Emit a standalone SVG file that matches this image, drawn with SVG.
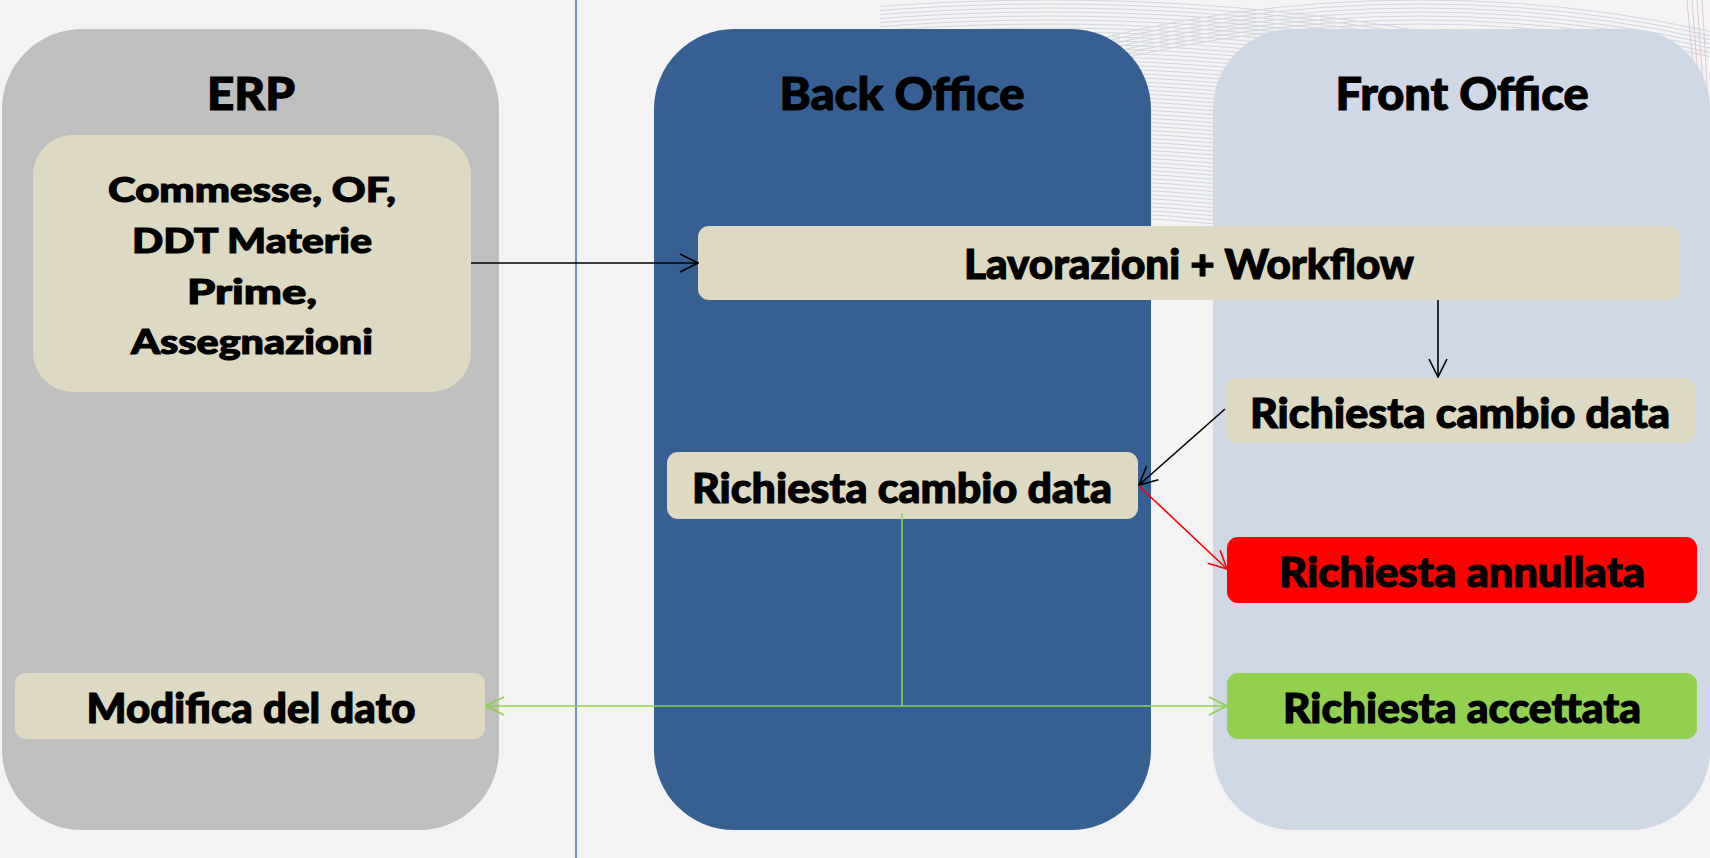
<svg xmlns="http://www.w3.org/2000/svg" width="1710" height="858" viewBox="0 0 1710 858">
<defs>
<style>
.t{font-family:Lato,"Open Sans","Liberation Sans",sans-serif;font-weight:900;fill:#000;stroke:#000;stroke-width:1.1px;text-anchor:middle}
.title{font-size:46px}
.box{font-size:41px}
.small{font-size:35px}
.beige{fill:#DDD9C3}
.deco{fill:none;stroke:#d2d6df;stroke-width:1}
.deco2{fill:none;stroke:#dcc8d2;stroke-width:1}
</style>
<clipPath id="decoClip"><rect x="880" y="0" width="830" height="250"/></clipPath>
<marker id="ak" viewBox="0 0 20 20" refX="19" refY="10" markerWidth="20" markerHeight="20" markerUnits="userSpaceOnUse" orient="auto"><path d="M1 1 L19 10 L1 19" fill="none" stroke="#000" stroke-width="1.6"/></marker>
<marker id="ar" viewBox="0 0 20 20" refX="19" refY="10" markerWidth="20" markerHeight="20" markerUnits="userSpaceOnUse" orient="auto"><path d="M1 1 L19 10 L1 19" fill="none" stroke="#FF0000" stroke-width="1.6"/></marker>
<marker id="ag" viewBox="0 0 20 20" refX="19" refY="10" markerWidth="20" markerHeight="20" markerUnits="userSpaceOnUse" orient="auto"><path d="M1 1 L19 10 L1 19" fill="none" stroke="#92D050" stroke-width="1.6"/></marker>
</defs>
<rect x="0" y="0" width="1710" height="858" fill="#F3F3F3"/>
<g id="decoration" clip-path="url(#decoClip)">
<ellipse class="deco" cx="1050" cy="1000" rx="1500" ry="1000"/>
<ellipse class="deco" cx="1050" cy="1000" rx="1494" ry="996"/>
<ellipse class="deco" cx="1050" cy="1000" rx="1488" ry="992"/>
<ellipse class="deco" cx="1050" cy="1000" rx="1482" ry="988"/>
<ellipse class="deco" cx="1050" cy="1000" rx="1476" ry="984"/>
<ellipse class="deco" cx="1050" cy="1000" rx="1470" ry="980"/>
<ellipse class="deco" cx="1050" cy="1000" rx="1464" ry="976"/>
<ellipse class="deco" cx="1050" cy="1000" rx="1458" ry="972"/>
<ellipse class="deco" cx="1050" cy="1000" rx="1452" ry="968"/>
<ellipse class="deco" cx="1050" cy="1000" rx="1446" ry="964"/>
<ellipse class="deco" cx="1050" cy="1000" rx="1440" ry="960"/>
<ellipse class="deco" cx="1050" cy="1000" rx="1434" ry="956"/>
<ellipse class="deco" cx="1050" cy="1000" rx="1428" ry="952"/>
<ellipse class="deco" cx="1050" cy="1000" rx="1422" ry="948"/>
<ellipse class="deco" cx="1050" cy="1000" rx="1416" ry="944"/>
<ellipse class="deco" cx="1050" cy="1000" rx="1410" ry="940"/>
<ellipse class="deco" cx="1050" cy="1000" rx="1404" ry="936"/>
<ellipse class="deco" cx="1050" cy="1000" rx="1398" ry="932"/>
<ellipse class="deco" cx="1050" cy="1000" rx="1392" ry="928"/>
<ellipse class="deco" cx="1050" cy="1000" rx="1386" ry="924"/>
<ellipse class="deco" cx="1050" cy="1000" rx="1380" ry="920"/>
<ellipse class="deco" cx="1050" cy="1000" rx="1374" ry="916"/>
<ellipse class="deco" cx="1050" cy="1000" rx="1368" ry="912"/>
<ellipse class="deco" cx="1050" cy="1000" rx="1362" ry="908"/>
<ellipse class="deco" cx="1050" cy="1000" rx="1356" ry="904"/>
<ellipse class="deco" cx="1050" cy="1000" rx="1350" ry="900"/>
<ellipse class="deco" cx="1050" cy="1000" rx="1344" ry="896"/>
<ellipse class="deco" cx="1050" cy="1000" rx="1338" ry="892"/>
<ellipse class="deco" cx="1050" cy="1000" rx="1332" ry="888"/>
<ellipse class="deco" cx="1050" cy="1000" rx="1326" ry="884"/>
<ellipse class="deco" cx="1050" cy="1000" rx="1320" ry="880"/>
<ellipse class="deco" cx="1050" cy="1000" rx="1314" ry="876"/>
<ellipse class="deco" cx="1050" cy="1000" rx="1308" ry="872"/>
<ellipse class="deco" cx="1050" cy="1000" rx="1302" ry="868"/>
<ellipse class="deco" cx="1050" cy="1000" rx="1296" ry="864"/>
<ellipse class="deco" cx="1050" cy="1000" rx="1290" ry="860"/>
<ellipse class="deco" cx="1050" cy="1000" rx="1284" ry="856"/>
<ellipse class="deco" cx="1050" cy="1000" rx="1278" ry="852"/>
<ellipse class="deco" cx="1050" cy="1000" rx="1272" ry="848"/>
<ellipse class="deco" cx="1050" cy="1000" rx="1266" ry="844"/>
<ellipse class="deco" cx="1050" cy="1000" rx="1260" ry="840"/>
<ellipse class="deco" cx="1050" cy="1000" rx="1254" ry="836"/>
<ellipse class="deco" cx="1050" cy="1000" rx="1248" ry="832"/>
<ellipse class="deco" cx="1050" cy="1000" rx="1242" ry="828"/>
<ellipse class="deco" cx="1050" cy="1000" rx="1236" ry="824"/>
<ellipse class="deco" cx="1050" cy="1000" rx="1230" ry="820"/>
<ellipse class="deco" cx="1050" cy="1000" rx="1224" ry="816"/>
<ellipse class="deco" cx="1050" cy="1000" rx="1218" ry="812"/>
<ellipse class="deco" cx="1050" cy="1000" rx="1212" ry="808"/>
<ellipse class="deco" cx="1050" cy="1000" rx="1206" ry="804"/>
<ellipse class="deco" cx="1050" cy="1000" rx="1200" ry="800"/>
<ellipse class="deco" cx="1050" cy="1000" rx="1194" ry="796"/>
<ellipse class="deco" cx="1050" cy="1000" rx="1188" ry="792"/>
<ellipse class="deco" cx="1050" cy="1000" rx="1182" ry="788"/>
<ellipse class="deco" cx="1050" cy="1000" rx="1176" ry="784"/>
<ellipse class="deco" cx="1420" cy="700" rx="980" ry="700"/>
<ellipse class="deco" cx="1420" cy="700" rx="974" ry="696"/>
<ellipse class="deco" cx="1420" cy="700" rx="969" ry="692"/>
<ellipse class="deco" cx="1420" cy="700" rx="963" ry="688"/>
<ellipse class="deco" cx="1420" cy="700" rx="958" ry="684"/>
<ellipse class="deco" cx="1420" cy="700" rx="952" ry="680"/>
<ellipse class="deco" cx="1420" cy="700" rx="946" ry="676"/>
<path class="deco2" d="M1692 0 Q1700 110 1710 210"/>
<path class="deco2" d="M1697 0 Q1704 100 1710 180"/>
<path class="deco2" d="M1702 0 Q1707 80 1710 140"/>
<path class="deco2" d="M1687 0 Q1697 120 1710 240"/>
</g>
<line id="divider" x1="576" y1="0" x2="576" y2="858" stroke="#4472C4" stroke-width="1.5"/>
<g id="lane-erp">
<rect x="2" y="29" width="497" height="801" rx="80" ry="80" fill="#BFBFBF"/>
<text class="t title" x="251" y="110" textLength="88" lengthAdjust="spacingAndGlyphs">ERP</text>
</g>
<g id="lane-back-office">
<rect x="654" y="29" width="497" height="801" rx="80" ry="80" fill="#376092"/>
<text class="t title" x="902" y="110" textLength="245" lengthAdjust="spacingAndGlyphs">Back Office</text>
</g>
<g id="lane-front-office">
<rect x="1213" y="29" width="497" height="801" rx="80" ry="80" fill="#D0D8E6"/>
<text class="t title" x="1462" y="110" textLength="253" lengthAdjust="spacingAndGlyphs">Front Office</text>
</g>
<g id="node-erp-dati">
<rect class="beige" x="33" y="135" width="438" height="257" rx="40" ry="40"/>
<text class="t small" x="252" y="202" textLength="288" lengthAdjust="spacingAndGlyphs">Commesse, OF,</text>
<text class="t small" x="252" y="253" textLength="240" lengthAdjust="spacingAndGlyphs">DDT Materie</text>
<text class="t small" x="252" y="304" textLength="130" lengthAdjust="spacingAndGlyphs">Prime,</text>
<text class="t small" x="252" y="354" textLength="242" lengthAdjust="spacingAndGlyphs">Assegnazioni</text>
</g>
<g id="node-lavorazioni">
<rect class="beige" x="698" y="226" width="982" height="74" rx="11" ry="11"/>
<text class="t box" x="1189" y="279" textLength="450" lengthAdjust="spacingAndGlyphs">Lavorazioni + Workflow</text>
</g>
<g id="node-fo-richiesta">
<rect class="beige" x="1225" y="378" width="470" height="65" rx="11" ry="11"/>
<text class="t box" x="1460" y="428" textLength="420" lengthAdjust="spacingAndGlyphs">Richiesta cambio data</text>
</g>
<g id="node-bo-richiesta">
<rect class="beige" x="667" y="452" width="471" height="67" rx="11" ry="11"/>
<text class="t box" x="902" y="503" textLength="420" lengthAdjust="spacingAndGlyphs">Richiesta cambio data</text>
</g>
<g id="node-annullata">
<rect x="1227" y="537" width="470" height="66" rx="11" ry="11" fill="#FF0000"/>
<text class="t box" x="1462" y="587" textLength="366" lengthAdjust="spacingAndGlyphs">Richiesta annullata</text>
</g>
<g id="node-accettata">
<rect x="1227" y="673" width="470" height="66" rx="11" ry="11" fill="#92D050"/>
<text class="t box" x="1462" y="723" textLength="358" lengthAdjust="spacingAndGlyphs">Richiesta accettata</text>
</g>
<g id="node-modifica">
<rect class="beige" x="15" y="673" width="470" height="66" rx="11" ry="11"/>
<text class="t box" x="251" y="723" textLength="329" lengthAdjust="spacingAndGlyphs">Modifica del dato</text>
</g>
<g id="connectors" fill="none" stroke-width="1.6">
<line x1="471" y1="263" x2="698" y2="263" stroke="#000" marker-end="url(#ak)"/>
<line x1="1438" y1="300" x2="1438" y2="377" stroke="#000" marker-end="url(#ak)"/>
<line x1="1225" y1="409" x2="1139" y2="485" stroke="#000" marker-end="url(#ak)"/>
<line x1="1139" y1="486" x2="1227" y2="569" stroke="#FF0000" marker-end="url(#ar)"/>
<line x1="902" y1="513" x2="902" y2="706" stroke="#92D050"/>
<line x1="902" y1="706" x2="486" y2="706" stroke="#92D050" marker-end="url(#ag)"/>
<line x1="902" y1="706" x2="1227" y2="706" stroke="#92D050" marker-end="url(#ag)"/>
</g>
</svg>
